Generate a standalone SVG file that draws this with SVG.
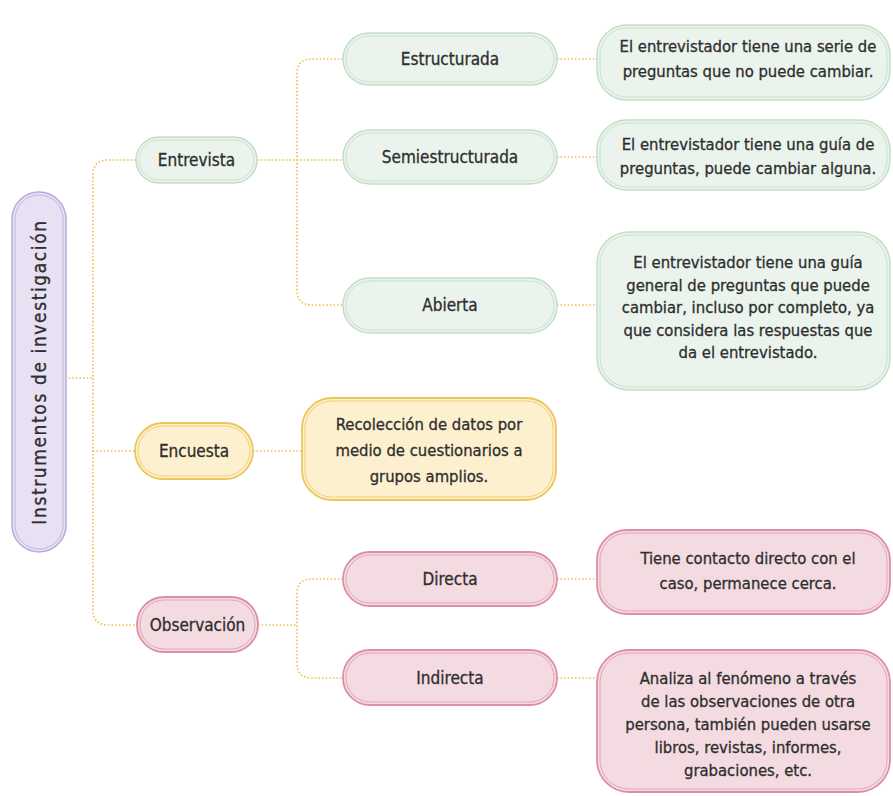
<svg xmlns="http://www.w3.org/2000/svg" width="893" height="796" viewBox="0 0 893 796">
<style>
text{font-family:"DejaVu Sans Condensed","DejaVu Sans","Liberation Sans",sans-serif;font-stretch:condensed;fill:#2e2e2e;stroke:#2e2e2e;stroke-width:0.3;text-anchor:middle;font-size:16.5px}
.t{font-size:17px}
.c{fill:none;stroke:#f0c04f;stroke-width:1.6;stroke-dasharray:1.6 2}
.g{fill:#eaf4ed;stroke:#c3dec9;stroke-width:1.5}
.gi{fill:none;stroke:#c9e2cf;stroke-width:1}
.p{fill:#e7e1f3;stroke:#b9a9de;stroke-width:1.5}
.pi{fill:none;stroke:#c2b4e2;stroke-width:1}
.y{fill:#fdf0cf;stroke:#eec55a;stroke-width:1.8}
.yi{fill:none;stroke:#f1cf74;stroke-width:1}
.k{fill:#f4dbe2;stroke:#de8fa7;stroke-width:1.8}
.ki{fill:none;stroke:#e3a3b6;stroke-width:1}
</style>
<rect width="893" height="796" fill="#ffffff"/>
<g id="connectors">
<path class="c" d="M65 378 H93"/>
<path class="c" d="M136 160 H108 Q93 160 93 175 V610 Q93 625 108 625 H137"/>
<path class="c" d="M93 451 H135"/>
<path class="c" d="M257 160 H343"/>
<path class="c" d="M343 59 H312 Q297 59 297 74 V290 Q297 305 312 305 H343"/>
<path class="c" d="M557 59 H597"/>
<path class="c" d="M557 157 H597"/>
<path class="c" d="M557 305 H597"/>
<path class="c" d="M253 451 H302"/>
<path class="c" d="M258 625 H297"/>
<path class="c" d="M343 579 H312 Q297 579 297 594 V663 Q297 678 312 678 H343"/>
<path class="c" d="M557 579 H597"/>
<path class="c" d="M557 678 H597"/>
</g>
<g id="root">
<rect class="p" x="12" y="192" width="54" height="360" rx="27"/>
<rect class="pi" x="15" y="195" width="48" height="354" rx="24"/>
<text transform="translate(46 372) rotate(-90)" style="font-size:19px;letter-spacing:1.6px">Instrumentos de investigación</text>
</g>
<g id="entrevista">
<rect class="g" x="136" y="137" width="121" height="46" rx="23"/>
<rect class="gi" x="139" y="140" width="115" height="40" rx="20"/>
<text class="t" x="196.5" y="166">Entrevista</text>
</g>
<g id="estructurada">
<rect class="g" x="343" y="33" width="214" height="52" rx="26"/>
<rect class="gi" x="346" y="36" width="208" height="46" rx="23"/>
<text class="t" x="450" y="65">Estructurada</text>
</g>
<g id="semiestructurada">
<rect class="g" x="343" y="130" width="214" height="54" rx="27"/>
<rect class="gi" x="346" y="133" width="208" height="48" rx="24"/>
<text class="t" x="450" y="163">Semiestructurada</text>
</g>
<g id="abierta">
<rect class="g" x="343" y="278" width="214" height="55" rx="27"/>
<rect class="gi" x="346" y="281" width="208" height="49" rx="24"/>
<text class="t" x="450" y="311">Abierta</text>
</g>
<g id="desc-estructurada">
<rect class="g" x="597" y="25" width="293" height="75" rx="30"/>
<rect class="gi" x="600" y="28" width="287" height="69" rx="27"/>
<text x="748" y="52">El entrevistador tiene una serie de</text>
<text x="748" y="77">preguntas que no puede cambiar.</text>
</g>
<g id="desc-semiestructurada">
<rect class="g" x="597" y="120" width="293" height="70" rx="30"/>
<rect class="gi" x="600" y="123" width="287" height="64" rx="27"/>
<text x="748" y="150">El entrevistador tiene una guía de</text>
<text x="748" y="174">preguntas, puede cambiar alguna.</text>
</g>
<g id="desc-abierta">
<rect class="g" x="597" y="232" width="293" height="158" rx="32"/>
<rect class="gi" x="600" y="235" width="287" height="152" rx="29"/>
<text x="748" y="268">El entrevistador tiene una guía</text>
<text x="748" y="290.5">general de preguntas que puede</text>
<text x="748" y="313">cambiar, incluso por completo, ya</text>
<text x="748" y="335.5">que considera las respuestas que</text>
<text x="748" y="358">da el entrevistado.</text>
</g>
<g id="encuesta">
<rect class="y" x="135" y="423" width="118" height="56" rx="28"/>
<rect class="yi" x="138" y="426" width="112" height="50" rx="25"/>
<text class="t" x="194" y="457">Encuesta</text>
</g>
<g id="desc-encuesta">
<rect class="y" x="302" y="398" width="254" height="102" rx="30"/>
<rect class="yi" x="305" y="401" width="248" height="96" rx="27"/>
<text x="429" y="430">Recolección de datos por</text>
<text x="429" y="456">medio de cuestionarios a</text>
<text x="429" y="482">grupos amplios.</text>
</g>
<g id="observacion">
<rect class="k" x="137" y="597" width="121" height="55" rx="27"/>
<rect class="ki" x="140" y="600" width="115" height="49" rx="24"/>
<text class="t" x="197.5" y="631">Observación</text>
</g>
<g id="directa">
<rect class="k" x="343" y="552" width="214" height="54" rx="27"/>
<rect class="ki" x="346" y="555" width="208" height="48" rx="24"/>
<text class="t" x="450" y="585">Directa</text>
</g>
<g id="indirecta">
<rect class="k" x="343" y="650" width="214" height="55" rx="27"/>
<rect class="ki" x="346" y="653" width="208" height="49" rx="24"/>
<text class="t" x="450" y="684">Indirecta</text>
</g>
<g id="desc-directa">
<rect class="k" x="597" y="530" width="293" height="84" rx="30"/>
<rect class="ki" x="600" y="533" width="287" height="78" rx="27"/>
<text x="748" y="564">Tiene contacto directo con el</text>
<text x="748" y="589">caso, permanece cerca.</text>
</g>
<g id="desc-indirecta">
<rect class="k" x="597" y="650" width="293" height="142" rx="32"/>
<rect class="ki" x="600" y="653" width="287" height="136" rx="29"/>
<text x="748" y="684">Analiza al fenómeno a través</text>
<text x="748" y="707">de las observaciones de otra</text>
<text x="748" y="730">persona, también pueden usarse</text>
<text x="748" y="753">libros, revistas, informes,</text>
<text x="748" y="776">grabaciones, etc.</text>
</g>
</svg>
